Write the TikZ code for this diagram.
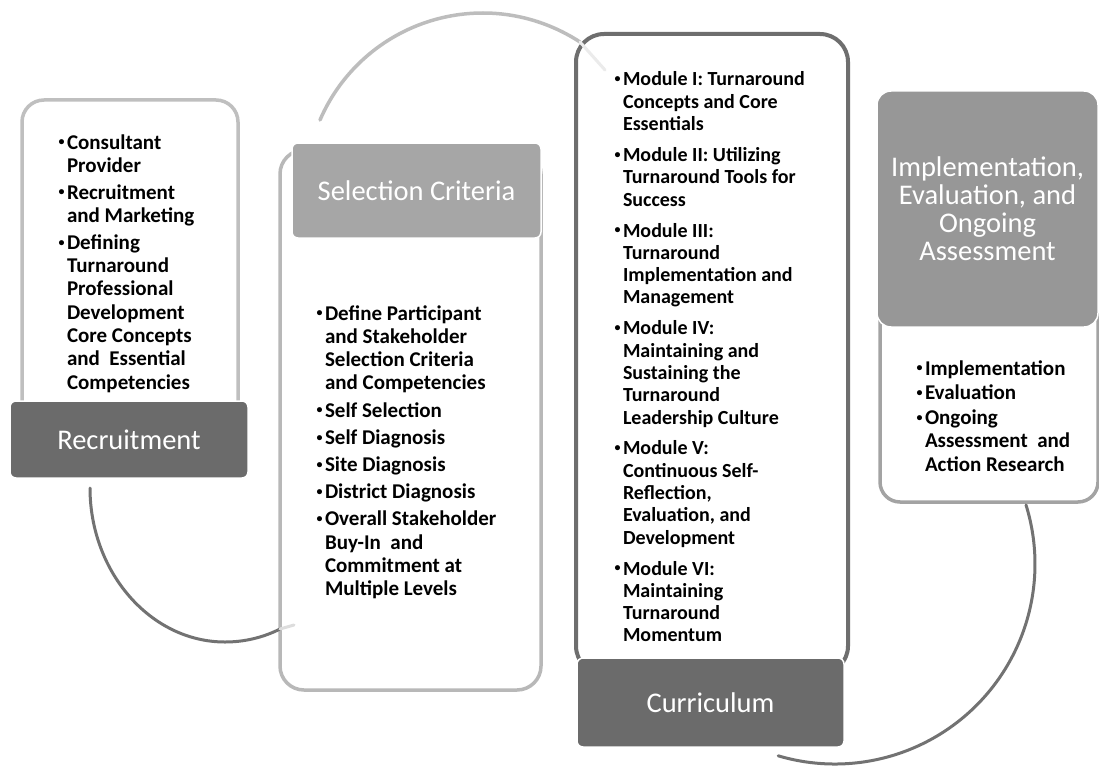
\documentclass[tikz,border=0pt]{standalone}
\usepackage{fontspec}
\setmainfont{Carlito}
\definecolor{darkhead}{HTML}{6B6B6B}
\definecolor{midhead}{HTML}{A6A6A6}
\definecolor{lighthead}{HTML}{979797}
\definecolor{recline}{HTML}{BFBFBF}
\definecolor{selline}{HTML}{B8B8B8}
\definecolor{curline}{HTML}{6E6E6E}
\definecolor{impline}{HTML}{A3A3A3}
\definecolor{linkdark}{HTML}{727272}
\definecolor{linklight}{HTML}{BDBDBD}
\definecolor{linkfaint}{HTML}{DDDDDD}
\newcommand{\smallbullet}{\raisebox{3.2pt}{\fontsize{12}{12}\selectfont •}}
\newcommand{\bitem}[1]{\noindent\llap{\smallbullet\hspace{2.5pt}}#1\par}
\newcommand{\headfont}{\fontsize{28.5}{28}\selectfont}
\newcommand{\listfont}{\fontsize{21}{23.3}\selectfont\bfseries}
\newcommand{\curfont}{\fontsize{20}{22.3}\selectfont\bfseries}
\begin{document}
\begin{tikzpicture}[x=1pt,y=-1pt,
  whitebox/.style={rectangle, fill=white, line width=3.5pt, inner sep=0pt, outer sep=0pt, anchor=north west},
  headbox/.style={rectangle, rounded corners=6pt, draw=white, line width=1.5pt, inner sep=0pt, outer sep=0pt, anchor=north west, text=white, font=\headfont},
  listtext/.style={anchor=base west, inner sep=0pt, outer sep=0pt, text=black},
  link/.style={line width=3pt, line cap=round},
  faint/.style={line width=3pt, line cap=round, draw=linkfaint}]
\useasboundingbox[fill=white] (0,0) rectangle (1099,765);

% Recruitment
\node[whitebox, draw=recline, rounded corners=22pt, minimum width=216pt, minimum height=330pt] (recB) at (22,100) {};
\node[headbox, fill=darkhead, minimum width=238pt, minimum height=77pt] (recH) at (10,401) {Recruitment};
\node[listtext] (recL) at (67,149) {\begin{minipage}[t]{170pt}\listfont\setlength{\parskip}{3.5pt}%
\bitem{Consultant\\Provider}
\bitem{Recruitment\\and Marketing}
\bitem{Defining\\Turnaround\\Professional\\Development\\Core Concepts\\and~ Essential\\Competencies}
\end{minipage}};

% Selection Criteria
\node[whitebox, draw=selline, rounded corners=24pt, minimum width=261pt, minimum height=540pt] (selB) at (280,150) {};
\node[headbox, fill=midhead, minimum width=249pt, minimum height=95pt] (selH) at (292,143) {Selection Criteria};
\node[listtext] (selL) at (325,320) {\begin{minipage}[t]{210pt}\listfont\setlength{\parskip}{3.9pt}%
\bitem{Define Participant\\and Stakeholder\\Selection Criteria\\and Competencies}
\bitem{Self Selection}
\bitem{Self Diagnosis}
\bitem{Site Diagnosis}
\bitem{District Diagnosis}
\bitem{Overall Stakeholder\\Buy-In~ and\\Commitment at\\Multiple Levels}
\end{minipage}};

% Curriculum
\node[whitebox, draw=curline, line width=4pt, rounded corners=28pt, minimum width=272pt, minimum height=640pt] (curB) at (576,34) {};
\node[headbox, fill=darkhead, minimum width=267pt, minimum height=89pt] (curH) at (577,658) {Curriculum};
\node[listtext] (curL) at (623,86) {\begin{minipage}[t]{220pt}\curfont\setlength{\parskip}{8.6pt}%
\bitem{Module I: Turnaround\\Concepts and Core\\Essentials}
\bitem{Module II: Utilizing\\Turnaround Tools for\\Success}
\bitem{Module III:\\Turnaround\\Implementation and\\Management}
\bitem{Module IV:\\Maintaining and\\Sustaining the\\Turnaround\\Leadership Culture}
\bitem{Module V:\\Continuous Self-\\Reflection,\\Evaluation, and\\Development}
\bitem{Module VI:\\Maintaining\\Turnaround\\Momentum}
\end{minipage}};

% Implementation
\node[whitebox, draw=impline, rounded corners=20pt, minimum width=218pt, minimum height=220pt] (impB) at (880,282) {};
\node[headbox, fill=lighthead, rounded corners=14pt, minimum width=221pt, minimum height=236pt, align=center] (impH) at (877,91) {Implementation,\\Evaluation, and\\Ongoing\\Assessment};
\node[listtext] (impL) at (925,375) {\begin{minipage}[t]{170pt}\listfont\setlength{\parskip}{1.5pt}%
\bitem{Implementation}
\bitem{Evaluation}
\bitem{Ongoing\\Assessment~ and\\Action Research}
\end{minipage}};

% connectors
\coordinate (l1a) at (90,488);
\coordinate (l1b) at (280,629);
\coordinate (l1c) at (294,625);
\draw[link, draw=linkdark] (l1a) .. controls (90,572) and (150.5,642) .. (225,642)
  .. controls (244,642) and (262.8,637.7) .. (l1b);
\draw[faint] (l1b) -- (l1c);

\coordinate (l2a) at (320,120);
\coordinate (l2b) at (580,42);
\coordinate (l2c) at (605,70);
\draw[link, draw=linklight, line width=3.5pt] (l2a) .. controls (348.1,54.9) and (412.1,13) .. (483,13)
  .. controls (517.5,13) and (551.1,23.2) .. (l2b);
\draw[faint, draw=linkfaint!60] (l2b) -- (l2c);

\coordinate (l3a) at (1026,505);
\coordinate (l3b) at (778.2,755.8);
\draw[link, draw=linkdark] (l3a) .. controls (1048,575.6) and (1028.9,652.9) .. (976.4,705.4)
  .. controls (924.6,757.2) and (848.5,776.6) .. (l3b);
\end{tikzpicture}
\end{document}
